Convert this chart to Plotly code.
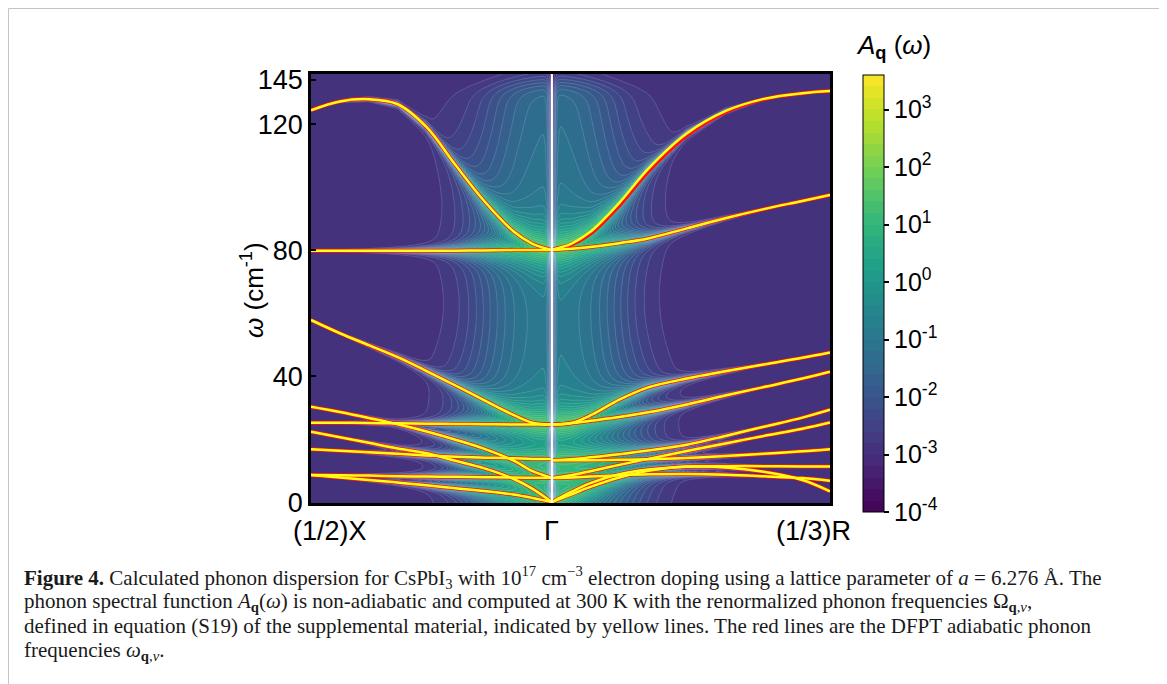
import numpy as np
import plotly.graph_objects as go
from plotly.colors import sample_colorscale

# ---------------- data ----------------
# path coordinate (units of 2*pi/a): (1/2)X -> Gamma -> (1/3)R
K_X, K_G, K_R = 0.0, 0.25, 0.5387
K_LEFT = [0.0, 0.03, 0.06, 0.09, 0.12, 0.15, 0.18, 0.21, 0.23, 0.25]
K_RIGHT = [0.25, 0.27, 0.29, 0.32, 0.35, 0.39, 0.43, 0.47, 0.51, 0.5387]

# renormalized phonon frequencies (cm^-1), (1/2)X -> Gamma
L1 = [124.4, 127.2, 127.9, 126.3, 119.0, 107.0, 95.5, 86.0, 82.0, 80.0]
L2 = [79.8, 79.8, 79.8, 79.8, 79.8, 79.8, 79.9, 80.0, 80.0, 80.0]
L3 = [57.8, 53.6, 49.8, 46.0, 41.6, 37.0, 32.3, 27.7, 25.2, 24.6]
L4 = [30.3, 28.6, 26.7, 24.7, 22.4, 19.8, 16.9, 13.2, 9.8, 7.7]
L5 = [25.2, 25.2, 25.1, 25.0, 24.9, 24.8, 24.7, 24.6, 24.6, 24.6]
L6 = [22.3, 20.6, 18.8, 17.0, 15.5, 13.1, 10.7, 7.4, 4.2, 0.0]
L7 = [16.8, 16.3, 15.8, 15.3, 14.8, 14.4, 14.1, 13.9, 13.7, 13.7]
L8 = [8.6, 8.5, 8.4, 8.2, 8.1, 8.0, 7.9, 7.8, 7.7, 7.7]
L9 = [8.6, 7.8, 7.0, 6.2, 5.3, 4.4, 3.5, 2.4, 1.3, 0.0]

# renormalized phonon frequencies (cm^-1), Gamma -> (1/3)R
R1 = [80.2, 82.0, 85.8, 95.0, 105.8, 117.0, 124.1, 128.0, 129.8, 130.5]
R2 = [80.0, 80.4, 81.0, 82.2, 83.7, 86.9, 90.1, 93.0, 95.6, 97.5]
R3 = [24.6, 25.1, 27.5, 32.5, 36.4, 39.2, 41.5, 43.7, 45.8, 47.5]
R4 = [24.6, 25.0, 25.8, 27.0, 28.5, 31.0, 33.8, 36.5, 39.2, 41.4]
R5 = [13.3, 13.6, 14.2, 15.2, 16.4, 18.2, 21.0, 23.9, 26.8, 29.3]
R6 = [7.6, 8.5, 9.8, 11.8, 13.7, 16.2, 18.6, 21.0, 23.3, 25.3]
R7 = [13.3, 13.3, 13.3, 13.4, 13.6, 14.0, 14.6, 15.3, 16.1, 16.8]
R8 = [0.0, 3.2, 6.0, 8.8, 10.3, 11.2, 11.4, 11.4, 11.3, 11.3]
R9 = [0.0, 2.4, 4.8, 7.8, 9.9, 11.3, 11.0, 9.6, 7.0, 3.4]
R10 = [7.6, 7.8, 8.1, 8.5, 8.8, 8.9, 8.7, 8.2, 7.6, 6.8]

# DFPT adiabatic branch that visibly departs from the renormalized one
R1_DFPT = [80.2, 81.7, 85.2, 94.2, 105.0, 116.4, 123.8, 127.9, 129.8, 130.5]

# relative electron-phonon coupling strength of each branch (spectral broadening)
C_LEFT = [1.0, 0.5, 0.8, 0.5, 0.5, 0.4, 0.4, 0.3, 0.3]
C_RIGHT = [1.0, 0.5, 0.8, 0.6, 0.5, 0.4, 0.3, 0.4, 0.4, 0.3]

LEFT_BANDS = [L1, L2, L3, L4, L5, L6, L7, L8, L9]
RIGHT_BANDS = [R1, R2, R3, R4, R5, R6, R7, R8, R9, R10]

CB_TICKS = [-4, -3, -2, -1, 0, 1, 2, 3]
Y_TICKVALS = [0, 40, 80, 120, 134]
Y_TICKTEXT = ["0", "40", "80", "120", "145"]
X_LABELS = ["(1/2)X", "Γ", "(1/3)R"]

# ---------------- spectral function ----------------
W_MIN, W_MAX = -0.3, 135.9
Z_MIN, Z_MAX, Z_STEP = -4.0, 3.6, 0.2
kk = np.linspace(K_X, K_R, 300)
ww = np.linspace(W_MIN, W_MAX, 340)
Wg = ww[:, None]
A = np.full((ww.size, kk.size), 10 ** -2.92)
d = np.abs(kk - K_G)
gamma_strip = 1 - np.exp(-(d / 0.004) ** 2)
g_b = np.exp(-0.5 * (d / 0.04) ** 2) * gamma_strip
g_n = np.exp(-0.5 * (d / 0.05) ** 2) * gamma_strip
top_cut = 1 / (1 + np.exp((Wg - 131.0) / 1.5))


def add_band(ks, band, c, mask):
    om = np.interp(kk, ks, band)[None, :]
    dw = Wg - om
    amp_n = 10 ** 1.5 * c * g_n
    w_n = 0.3 + 2.4 * g_n
    amp_b = 10 ** -1.35 * c * g_b
    w_b = 10 + 35 * g_b
    val = amp_n / (1 + (dw / w_n) ** 2) ** 2 + top_cut * amp_b / (1 + (dw / w_b) ** 2)
    return val * mask[None, :]


left_mask = (kk <= K_G + 1e-9).astype(float)
right_mask = (kk >= K_G - 1e-9).astype(float)
for b, c in zip(LEFT_BANDS, C_LEFT):
    A += add_band(K_LEFT, b, c, left_mask)
for b, c in zip(RIGHT_BANDS, C_RIGHT):
    A += add_band(K_RIGHT, b, c, right_mask)
Z = np.clip(np.round(np.log10(A), 3), Z_MIN, Z_MAX)

# stepped viridis (filled-contour look)
n_steps = int(round((Z_MAX - Z_MIN) / Z_STEP))
step_cols = sample_colorscale("Viridis", [(i + 0.5) / n_steps for i in range(n_steps)])
stepped = []
for i, col in enumerate(step_cols):
    stepped.append([i / n_steps, col])
    stepped.append([(i + 1) / n_steps, col])

# ---------------- figure ----------------
# page pixel geometry (the page body adds an 8 px offset)
OFF = 8
PL, PR, PT, PB = 311, 830, 74, 503
FW, FH = 1167 - OFF, 684 - OFF


def px(x):
    return (x - PL) / (PR - PL)


def py(y):
    return (PB - y) / (PB - PT)


fig = go.Figure()
fig.add_trace(go.Heatmap(
    x=kk, y=ww, z=Z, colorscale=stepped, zmin=Z_MIN, zmax=Z_MAX, zsmooth=False,
    hoverinfo="skip",
    colorbar=dict(
        x=px(863), xanchor="left", y=py(75), yanchor="top",
        lenmode="pixels", len=437, thickness=21,
        xpad=0, ypad=0, outlinewidth=1, outlinecolor="black",
        tickvals=CB_TICKS,
        ticktext=["10<sup>%d</sup>" % t for t in CB_TICKS],
        ticks="outside", ticklen=5, tickwidth=1.5, tickcolor="black",
        tickfont=dict(family="Liberation Sans, Arial", size=25, color="black"),
    ),
))
fig.add_trace(go.Contour(
    x=kk, y=ww, z=Z, showscale=False, autocontour=False,
    contours=dict(start=Z_MIN, end=Z_MAX, size=Z_STEP, coloring="none"),
    line=dict(color="rgba(225,225,255,0.3)", width=0.6, smoothing=0.6),
    hoverinfo="skip",
))

line_sets = [(K_LEFT, LEFT_BANDS), (K_RIGHT, RIGHT_BANDS)]
for ks, bands in line_sets:
    for b in bands:
        yb = R1_DFPT if b is R1 else b
        fig.add_trace(go.Scatter(x=ks, y=yb, mode="lines", hoverinfo="skip",
                                 line=dict(color="#ff1010", width=4.0, shape="spline"),
                                 showlegend=False))
for ks, bands in line_sets:
    for b in bands:
        fig.add_trace(go.Scatter(x=ks, y=b, mode="lines", hoverinfo="skip",
                                 line=dict(color="#ffff14", width=2.5, shape="spline"),
                                 showlegend=False))

axis_common = dict(showgrid=False, zeroline=False, showline=True, mirror=True,
                   linecolor="black", linewidth=2.5)
fig.update_xaxes(range=[K_X, K_R], showticklabels=False, ticks="", **axis_common)
fig.update_yaxes(range=[W_MIN, W_MAX], tickvals=Y_TICKVALS, ticktext=Y_TICKTEXT,
                 ticks="inside", ticklen=5, tickwidth=2, tickcolor="black",
                 tickfont=dict(family="Liberation Sans, Arial", size=27, color="black"),
                 **axis_common)

shapes = [
    dict(type="line", xref="x", yref="paper", x0=K_G, x1=K_G, y0=0, y1=1,
         line=dict(color="white", width=2.2), layer="above"),
]
frame_col = "#c4c4c4"
for (x0, y0, x1, y1) in [(8.5, 8.5, 1160, 8.5), (8.5, 8.5, 8.5, 700), (1160, 8.5, 1160, 700)]:
    shapes.append(dict(type="line", xref="paper", yref="paper",
                       x0=px(x0), y0=py(y0), x1=px(x1), y1=py(y1),
                       line=dict(color=frame_col, width=1)))

ann = []
for lab, xc in zip(X_LABELS, [330, 551, 813]):
    ann.append(dict(text=lab, x=px(xc), y=py(531), xref="paper", yref="paper",
                    showarrow=False, xanchor="center", yanchor="middle",
                    font=dict(family="Liberation Sans, Arial", size=27, color="black")))
ann.append(dict(text="<i>ω</i> (cm<sup>-1</sup>)", x=px(252), y=py(290), xref="paper",
                yref="paper", showarrow=False, textangle=-90, xanchor="center",
                yanchor="middle",
                font=dict(family="Liberation Sans, Arial", size=26, color="black")))
ann.append(dict(text="<i>A</i><sub><b>q</b></sub> (<i>ω</i>)", x=px(893), y=py(46),
                xref="paper", yref="paper", showarrow=False, xanchor="center",
                yanchor="middle",
                font=dict(family="Liberation Sans, Arial", size=26, color="black")))

caption = [
    "<b>Figure 4.</b> Calculated phonon dispersion for CsPbI<sub>3</sub> with 10<sup>17</sup> cm<sup>−3</sup> electron doping using a lattice parameter of <i>a</i> = 6.276 Å. The",
    "phonon spectral function <i>A</i><sub><b>q</b></sub>(<i>ω</i>) is non-adiabatic and computed at 300 K with the renormalized phonon frequencies Ω<sub><b>q</b>,<i>ν</i></sub>,",
    "defined in equation (S19) of the supplemental material, indicated by yellow lines. The red lines are the DFPT adiabatic phonon",
    "frequencies <i>ω</i><sub><b>q</b>,<i>ν</i></sub>.",
]
for i, line in enumerate(caption):
    ann.append(dict(text=line, x=px(22), y=py(577 + 24.5 * i), xref="paper", yref="paper",
                    showarrow=False, xanchor="left", yanchor="middle", align="left",
                    font=dict(family="Liberation Serif, Times New Roman", size=21,
                              color="#1a1a1a")))

fig.update_layout(
    width=FW, height=FH, autosize=False,
    margin=dict(l=PL - OFF, r=FW - (PR - OFF), t=PT - OFF, b=FH - (PB - OFF)),
    paper_bgcolor="white", plot_bgcolor="white",
    shapes=shapes, annotations=ann, showlegend=False,
)

fig.write_html("out.html")
